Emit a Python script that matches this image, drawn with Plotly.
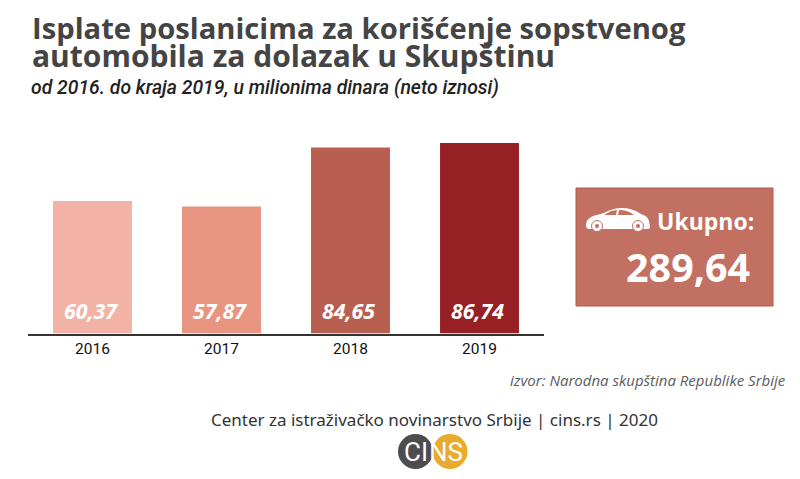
import plotly.graph_objects as go

W, H = 800, 479

years = ["2016", "2017", "2018", "2019"]
amounts = [60.37, 57.87, 84.65, 86.74]
bar_colors = ["#f2b3a6", "#e79481", "#b95f50", "#962023"]
total_label = "289,64"
title_lines = ["Isplate poslanicima za korišćenje sopstvenog",
               "automobila za dolazak u Skupštinu"]
subtitle = "od 2016. do kraja 2019, u milionima dinara (neto iznosi)"
source_note = "izvor: Narodna skupština Republike Srbije"
credit = "Center za istraživačko novinarstvo Srbije | cins.rs | 2020"
label_height = 10.4  # value-axis height at which the bar labels sit


def px(x):
    return x / W


def py(y):
    return 1 - y / H


def text(x, y, s, size, color, family="Open Sans", weight=400, style="normal", anchor="left"):
    return dict(
        x=px(x), y=py(y), xref="paper", yref="paper", text=s, showarrow=False,
        xanchor=anchor, yanchor="middle",
        font=dict(size=size, color=color, family=family, weight=weight, style=style),
    )


def pixel_path(points):
    # Converts a drawing given in canvas pixels to a paper-space SVG path
    out = []
    for p in points:
        if isinstance(p, str):
            out.append(p)
        else:
            out.append(f"{px(p[0]):.5f},{py(p[1]):.5f}")
    return " ".join(out)


def circle(cx, cy, r, fill, line=None, width=0):
    return dict(
        type="circle", xref="paper", yref="paper",
        x0=px(cx - r), x1=px(cx + r), y0=py(cy + r), y1=py(cy - r),
        fillcolor=fill, line=dict(color=line or fill, width=width), layer="above",
    )


car_body = pixel_path([
    "M", (586, 225), "Q", (586, 219), (593, 216), "L", (604, 213),
    "Q", (613, 208), (622, 208), "Q", (632, 208), (641, 214),
    "Q", (648, 216), (649, 221), "L", (650, 227), "Q", (650, 229), (647, 229),
    "L", (589, 229), "Q", (586, 229), (586, 225), "Z",
])
car_window_a = pixel_path(["M", (604, 215), "L", (611, 211), "L", (617, 210), "L", (616, 215), "Z"])
car_window_b = pixel_path(["M", (619, 210), "Q", (628, 210), (634, 215), "L", (618, 215), "Z"])

shapes = [
    # total box
    dict(type="rect", xref="paper", yref="paper", x0=px(576), x1=px(773), y0=py(306), y1=py(188),
         fillcolor="#c27061", line=dict(color="#b4584a", width=1), layer="below"),
    # car pictogram
    dict(type="path", xref="paper", yref="paper", path=car_body, fillcolor="white",
         line=dict(width=0), layer="above"),
    dict(type="path", xref="paper", yref="paper", path=car_window_a, fillcolor="#c27061",
         line=dict(width=0), layer="above"),
    dict(type="path", xref="paper", yref="paper", path=car_window_b, fillcolor="#c27061",
         line=dict(width=0), layer="above"),
    circle(597, 226, 5.5, "white", "#c27061", 1),
    circle(597, 226, 2, "#c27061"),
    circle(638, 226, 5.5, "white", "#c27061", 1),
    circle(638, 226, 2, "#c27061"),
    # logo discs
    circle(415.5, 451.5, 17.5, "#4d4d4f"),
    circle(450, 451.5, 17.5, "#e8ab2c"),
]

annotations = [
    text(30, 28, title_lines[0], 29.2, "#444444", weight=700),
    text(30, 56, title_lines[1], 30, "#444444", weight=700),
    text(29, 88, subtitle, 19.4, "#222222", family="Roboto", weight=500, style="italic"),
    text(788, 380, source_note, 15, "#5c5c5c", style="italic", anchor="right"),
    text(435, 419, credit, 17, "#333333", family="Noto Sans", anchor="center"),
    text(705, 221, "Ukupno:", 23, "white", weight=700, anchor="center"),
    text(687.5, 267, total_label, 39.5, "white", weight=700, anchor="center"),
    text(416, 452, "CI", 26, "white", family="Roboto", anchor="center"),
    text(446, 452, "NS", 26, "white", family="Roboto", anchor="center"),
]

# value labels near the foot of each bar; x is the category index
for i, value in enumerate(amounts):
    annotations.append(dict(
        x=i, y=label_height, xref="x", yref="y", xshift=-2,
        text=f"<b><i>{value:.2f}</i></b>".replace(".", ","),
        showarrow=False, xanchor="center", yanchor="middle",
        font=dict(family="Open Sans", size=21.3, color="white"),
    ))

fig = go.Figure(
    go.Bar(
        x=years, y=amounts,
        marker=dict(color=bar_colors, line=dict(width=0)),
        cliponaxis=False,
    )
)

fig.update_layout(
    width=W, height=H, autosize=False,
    margin=dict(l=0, r=0, t=0, b=0),
    paper_bgcolor="white", plot_bgcolor="white",
    showlegend=False, bargap=0.388,
    shapes=shapes, annotations=annotations,
)
fig.update_xaxes(
    domain=[px(28), px(544)], type="category", range=[-0.5, 3.5],
    showgrid=False, showline=True, linecolor="#333333", linewidth=2,
    ticks="", tickfont=dict(family="Roboto", size=15.5, color="#111111", weight=400),
    anchor="y",
)
fig.update_yaxes(
    domain=[py(333.5), py(143)], range=[0, 86.74],
    visible=False, showgrid=False, zeroline=False,
)

fig.write_html("out.html", config=dict(displayModeBar=False))
